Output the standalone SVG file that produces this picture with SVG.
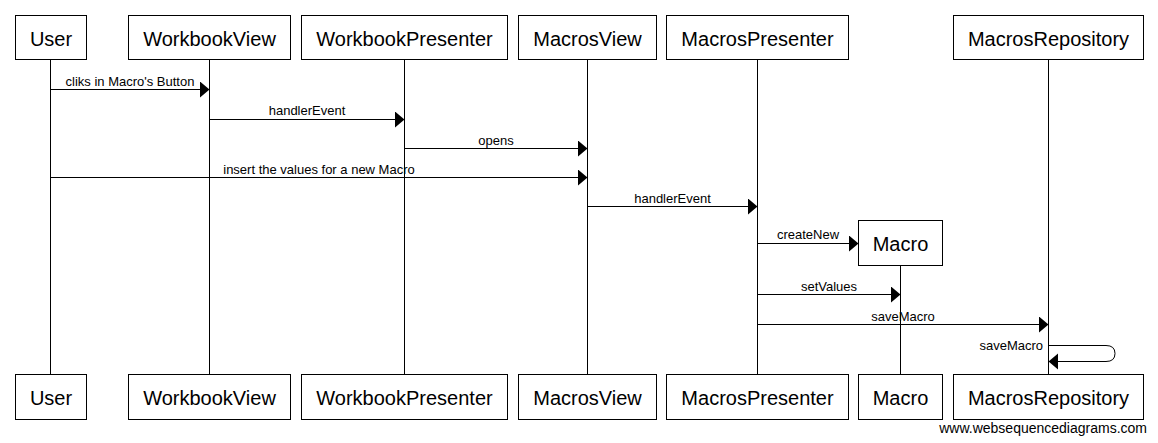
<svg xmlns="http://www.w3.org/2000/svg" width="1158" height="443" viewBox="0 0 1158 443">
<style>
.box{fill:#fff;stroke:#000;stroke-width:1}
.life{stroke:#000;stroke-width:1;fill:none}
.name{font-family:"Liberation Sans",Arial,sans-serif;font-size:20px;text-anchor:middle;fill:#000}
.msg{stroke:#000;stroke-width:1;fill:none;marker-end:url(#arr)}
.lbl{font-family:"Liberation Sans",Arial,sans-serif;font-size:13px;text-anchor:middle;fill:#000}
.wm{font-family:"Liberation Sans",Arial,sans-serif;font-size:14px;text-anchor:end;fill:#000}
</style>
<defs>
<marker id="arr" markerUnits="userSpaceOnUse" markerWidth="11" markerHeight="17" refX="9.5" refY="8" orient="auto" viewBox="0 0 11 17">
<path d="M0,0 L9.5,8 L0,16 Z" fill="#000"/>
</marker>
</defs>
<rect width="1158" height="443" fill="#fff"/>
<g id="lifelines">
<line class="life" x1="50.5" y1="59.5" x2="50.5" y2="374.5"/>
<line class="life" x1="209.5" y1="59.5" x2="209.5" y2="374.5"/>
<line class="life" x1="404.5" y1="59.5" x2="404.5" y2="374.5"/>
<line class="life" x1="587.5" y1="59.5" x2="587.5" y2="374.5"/>
<line class="life" x1="757.5" y1="59.5" x2="757.5" y2="374.5"/>
<line class="life" x1="900.5" y1="265.5" x2="900.5" y2="374.5"/>
<line class="life" x1="1048.5" y1="59.5" x2="1048.5" y2="374.5"/>
</g>
<g id="User">
<rect class="box" x="15.5" y="15.5" width="71" height="44"/><text class="name" x="51" y="45.5">User</text>
<rect class="box" x="15.5" y="374.5" width="71" height="45"/><text class="name" x="51" y="405">User</text>
</g>
<g id="WorkbookView">
<rect class="box" x="128.5" y="15.5" width="162" height="44"/><text class="name" x="209.5" y="45.5">WorkbookView</text>
<rect class="box" x="128.5" y="374.5" width="162" height="45"/><text class="name" x="209.5" y="405">WorkbookView</text>
</g>
<g id="WorkbookPresenter">
<rect class="box" x="301.5" y="15.5" width="206" height="44"/><text class="name" x="404.5" y="45.5">WorkbookPresenter</text>
<rect class="box" x="301.5" y="374.5" width="206" height="45"/><text class="name" x="404.5" y="405">WorkbookPresenter</text>
</g>
<g id="MacrosView">
<rect class="box" x="518.5" y="15.5" width="138" height="44"/><text class="name" x="587.5" y="45.5">MacrosView</text>
<rect class="box" x="518.5" y="374.5" width="138" height="45"/><text class="name" x="587.5" y="405">MacrosView</text>
</g>
<g id="MacrosPresenter">
<rect class="box" x="666.5" y="15.5" width="182" height="44"/><text class="name" x="757.5" y="45.5">MacrosPresenter</text>
<rect class="box" x="666.5" y="374.5" width="182" height="45"/><text class="name" x="757.5" y="405">MacrosPresenter</text>
</g>
<g id="Macro">
<rect class="box" x="858.5" y="220.5" width="84" height="45"/><text class="name" x="900.5" y="251">Macro</text>
<rect class="box" x="858.5" y="374.5" width="84" height="45"/><text class="name" x="900.5" y="405">Macro</text>
</g>
<g id="MacrosRepository">
<rect class="box" x="953.5" y="15.5" width="190" height="44"/><text class="name" x="1048.5" y="45.5">MacrosRepository</text>
<rect class="box" x="953.5" y="374.5" width="190" height="45"/><text class="name" x="1048.5" y="405">MacrosRepository</text>
</g>
<g id="connectors">
<line class="msg" x1="50.5" y1="89.5" x2="209.5" y2="89.5"/>
<text class="lbl" x="130" y="85.5">cliks in Macro's Button</text>
<line class="msg" x1="209.5" y1="119.5" x2="404.5" y2="119.5"/>
<text class="lbl" x="307" y="115">handlerEvent</text>
<line class="msg" x1="404.5" y1="148.5" x2="587.5" y2="148.5"/>
<text class="lbl" x="496" y="144.5">opens</text>
<line class="msg" x1="50.5" y1="177.5" x2="587.5" y2="177.5"/>
<text class="lbl" x="319" y="173.5">insert the values for a new Macro</text>
<line class="msg" x1="587.5" y1="206.5" x2="757.5" y2="206.5"/>
<text class="lbl" x="672.5" y="202.5">handlerEvent</text>
<line class="msg" x1="757.5" y1="243.5" x2="858.5" y2="243.5"/>
<text class="lbl" x="808" y="239">createNew</text>
<line class="msg" x1="757.5" y1="294.5" x2="900.5" y2="294.5"/>
<text class="lbl" x="829" y="290.5">setValues</text>
<line class="msg" x1="757.5" y1="324.5" x2="1048.5" y2="324.5"/>
<text class="lbl" x="903" y="320.5">saveMacro</text>
<path class="msg" d="M1048.5 345.5 H1106 Q1115 345.5 1115 353.5 Q1115 361.5 1106 361.5 H1048.5"/>
<text class="lbl" x="1043" y="350" style="text-anchor:end">saveMacro</text>
</g>
<text class="wm" x="1147" y="433">www.websequencediagrams.com</text>
</svg>
